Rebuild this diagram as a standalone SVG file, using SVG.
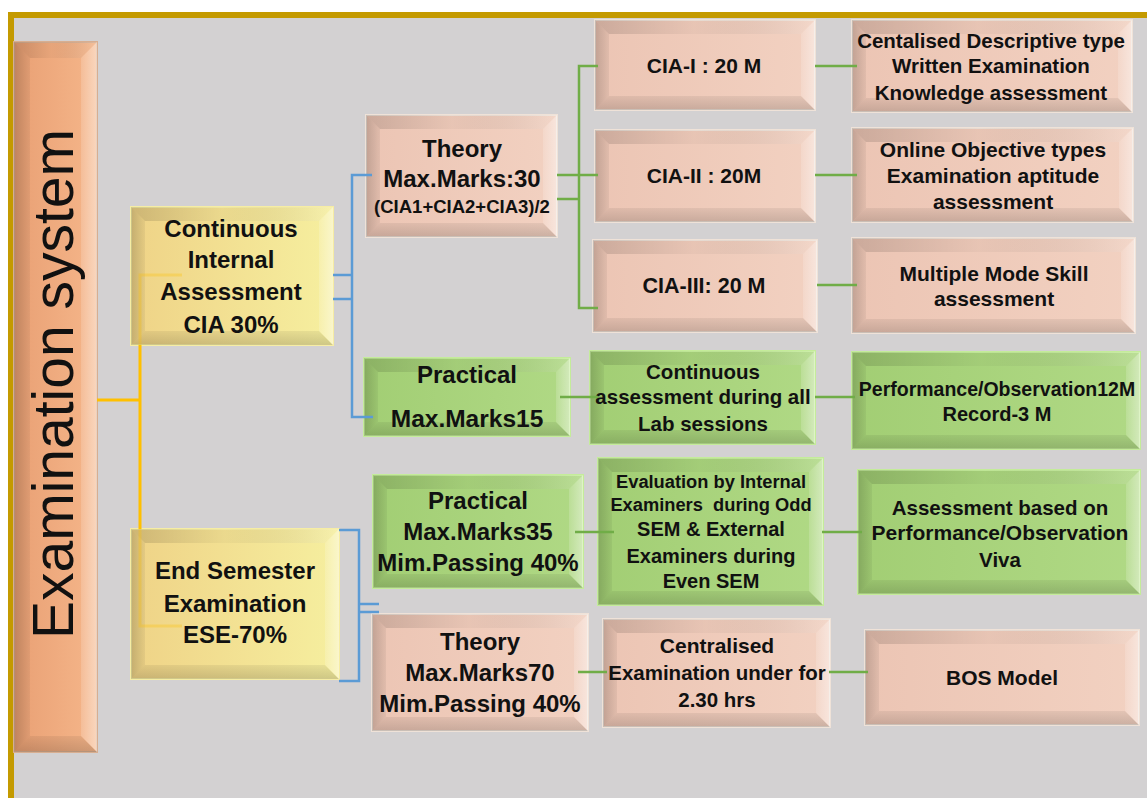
<svg xmlns="http://www.w3.org/2000/svg" width="1147" height="798" viewBox="0 0 1147 798">
<defs>
<linearGradient id="gPink" x1="0" y1="0" x2="1" y2="0"><stop offset="0" stop-color="#ecc5b4"/><stop offset="1" stop-color="#f2d1c1"/></linearGradient>
<linearGradient id="gGreen" x1="0" y1="0" x2="1" y2="0"><stop offset="0" stop-color="#a2ce74"/><stop offset="1" stop-color="#b0d985"/></linearGradient>
<linearGradient id="gYellow" x1="0" y1="0" x2="1" y2="0"><stop offset="0" stop-color="#efd387"/><stop offset="1" stop-color="#f6ef9f"/></linearGradient>
<linearGradient id="gOrange" x1="0" y1="0" x2="1" y2="0"><stop offset="0" stop-color="#e9a074"/><stop offset="1" stop-color="#f5b68a"/></linearGradient>
<linearGradient id="gTop" x1="0" y1="0" x2="1" y2="0"><stop offset="0" stop-color="#000" stop-opacity="0.14"/><stop offset="0.45" stop-color="#000" stop-opacity="0.03"/><stop offset="1" stop-color="#fff" stop-opacity="0.15"/></linearGradient>
<linearGradient id="gLeft" x1="0" y1="0" x2="1" y2="0"><stop offset="0" stop-color="#000" stop-opacity="0.18"/><stop offset="1" stop-color="#000" stop-opacity="0.05"/></linearGradient>
<linearGradient id="gBot" x1="0" y1="0" x2="0" y2="1"><stop offset="0" stop-color="#000" stop-opacity="0.06"/><stop offset="1" stop-color="#000" stop-opacity="0.16"/></linearGradient>
<linearGradient id="gRight" x1="0" y1="0" x2="1" y2="0"><stop offset="0" stop-color="#fff" stop-opacity="0.15"/><stop offset="1" stop-color="#fff" stop-opacity="0.45"/></linearGradient>
</defs>
<style>
.bt{fill:url(#gTop)}
.bl{fill:url(#gLeft)}
.bb{fill:url(#gBot)}
.br{fill:url(#gRight)}
.pink .base{fill:url(#gPink);stroke:#efe2d8;stroke-width:2}
.green .base{fill:url(#gGreen);stroke:#c4ec9a;stroke-width:2}
.yellow .base{fill:url(#gYellow);stroke:#f6eda4;stroke-width:2}
.orange .base{fill:url(#gOrange);stroke:#d8ae90;stroke-width:2}
.t{font-family:"Liberation Sans",Arial,sans-serif;font-weight:bold;text-anchor:middle;fill:#111}
.big{font-size:24px}
.mid{font-size:21px}
.sm{font-size:20.5px}
.title{font-family:"Liberation Sans",Arial,sans-serif;font-size:57px;text-anchor:middle;fill:#111}
.cy{fill:none;stroke:#ffc000;stroke-width:3}
.cyf{fill:none;stroke:#ffc000;stroke-width:3;stroke-opacity:0.3}
.cb{fill:none;stroke:#5b9bd5;stroke-width:2.5}
.cg{fill:none;stroke:#70ad47;stroke-width:2.5}
</style>
<rect x="0" y="0" width="1147" height="798" fill="#ffffff"/>
<rect x="11" y="15" width="1200" height="900" fill="#d3d1d2" stroke="#c49a00" stroke-width="6"/>

<g id="n-exam" class="node orange">
<rect class="base" x="14" y="42" width="83" height="710"/>
<polygon class="bt" points="14,42 97,42 81,58 30,58"/>
<polygon class="bl" points="14,42 30,58 30,736 14,752"/>
<polygon class="bb" points="14,752 30,736 81,736 97,752"/>
<polygon class="br" points="97,42 97,752 81,736 81,58"/>
<text class="title" transform="translate(73,384) rotate(-90)">Examination system</text>
</g>

<g id="n-cia" class="node yellow">
<rect class="base" x="131" y="207" width="202" height="138"/>
<polygon class="bt" points="131,207 333,207 319,221 145,221"/>
<polygon class="bl" points="131,207 145,221 145,331 131,345"/>
<polygon class="bb" points="131,345 145,331 319,331 333,345"/>
<polygon class="br" points="333,207 333,345 319,331 319,221"/>
<text class="t big" x="231" y="237">Continuous</text>
<text class="t big" x="231" y="268">Internal</text>
<text class="t big" x="231" y="300">Assessment</text>
<text class="t big" x="231" y="333">CIA 30%</text>
</g>

<g id="n-ese" class="node yellow">
<rect class="base" x="131" y="529" width="208" height="150"/>
<polygon class="bt" points="131,529 339,529 325,543 145,543"/>
<polygon class="bl" points="131,529 145,543 145,665 131,679"/>
<polygon class="bb" points="131,679 145,665 325,665 339,679"/>
<polygon class="br" points="339,529 339,679 325,665 325,543"/>
<text class="t big" x="235" y="579">End Semester</text>
<text class="t big" x="235" y="612">Examination</text>
<text class="t big" x="235" y="643">ESE-70%</text>
</g>

<g id="n-theory1" class="node pink">
<rect class="base" x="366" y="115" width="191" height="122"/>
<polygon class="bt" points="366,115 557,115 543,129 380,129"/>
<polygon class="bl" points="366,115 380,129 380,223 366,237"/>
<polygon class="bb" points="366,237 380,223 543,223 557,237"/>
<polygon class="br" points="557,115 557,237 543,223 543,129"/>
<text class="t big" x="462" y="157">Theory</text>
<text class="t big" x="462" y="187">Max.Marks:30</text>
<text class="t" style="font-size:18.5px" x="462" y="213">(CIA1+CIA2+CIA3)/2</text>
</g>

<g id="n-cia1" class="node pink">
<rect class="base" x="595" y="20" width="220" height="90"/>
<polygon class="bt" points="595,20 815,20 801,34 609,34"/>
<polygon class="bl" points="595,20 609,34 609,96 595,110"/>
<polygon class="bb" points="595,110 609,96 801,96 815,110"/>
<polygon class="br" points="815,20 815,110 801,96 801,34"/>
<text class="t mid" x="704" y="73">CIA-I : 20 M</text>
</g>

<g id="n-cia2" class="node pink">
<rect class="base" x="595" y="130" width="220" height="92"/>
<polygon class="bt" points="595,130 815,130 801,144 609,144"/>
<polygon class="bl" points="595,130 609,144 609,208 595,222"/>
<polygon class="bb" points="595,222 609,208 801,208 815,222"/>
<polygon class="br" points="815,130 815,222 801,208 801,144"/>
<text class="t mid" x="704" y="183">CIA-II : 20M</text>
</g>

<g id="n-cia3" class="node pink">
<rect class="base" x="593" y="240" width="224" height="92"/>
<polygon class="bt" points="593,240 817,240 803,254 607,254"/>
<polygon class="bl" points="593,240 607,254 607,318 593,332"/>
<polygon class="bb" points="593,332 607,318 803,318 817,332"/>
<polygon class="br" points="817,240 817,332 803,318 803,254"/>
<text class="t" style="font-size:21.5px" x="704" y="293">CIA-III: 20 M</text>
</g>

<g id="n-r1" class="node pink">
<rect class="base" x="852" y="20" width="280" height="92"/>
<polygon class="bt" points="852,20 1132,20 1118,34 866,34"/>
<polygon class="bl" points="852,20 866,34 866,98 852,112"/>
<polygon class="bb" points="852,112 866,98 1118,98 1132,112"/>
<polygon class="br" points="1132,20 1132,112 1118,98 1118,34"/>
<text class="t sm" x="991" y="48">Centalised Descriptive type</text>
<text class="t sm" x="991" y="73">Written Examination</text>
<text class="t sm" x="991" y="100">Knowledge assessment</text>
</g>

<g id="n-r2" class="node pink">
<rect class="base" x="852" y="128" width="281" height="94"/>
<polygon class="bt" points="852,128 1133,128 1119,142 866,142"/>
<polygon class="bl" points="852,128 866,142 866,208 852,222"/>
<polygon class="bb" points="852,222 866,208 1119,208 1133,222"/>
<polygon class="br" points="1133,128 1133,222 1119,208 1119,142"/>
<text class="t mid" x="993" y="157">Online Objective types</text>
<text class="t mid" x="993" y="183">Examination aptitude</text>
<text class="t mid" x="993" y="209">assessment</text>
</g>

<g id="n-r3" class="node pink">
<rect class="base" x="852" y="238" width="283" height="95"/>
<polygon class="bt" points="852,238 1135,238 1121,252 866,252"/>
<polygon class="bl" points="852,238 866,252 866,319 852,333"/>
<polygon class="bb" points="852,333 866,319 1121,319 1135,333"/>
<polygon class="br" points="1135,238 1135,333 1121,319 1121,252"/>
<text class="t mid" x="994" y="281">Multiple Mode Skill</text>
<text class="t mid" x="994" y="306">assessment</text>
</g>

<g id="n-prac1" class="node green">
<rect class="base" x="364" y="358" width="206" height="78"/>
<polygon class="bt" points="364,358 570,358 556,372 378,372"/>
<polygon class="bl" points="364,358 378,372 378,422 364,436"/>
<polygon class="bb" points="364,436 378,422 556,422 570,436"/>
<polygon class="br" points="570,358 570,436 556,422 556,372"/>
<text class="t big" x="467" y="383">Practical</text>
<text class="t" style="font-size:24.5px" x="467" y="427">Max.Marks15</text>
</g>

<g id="n-cont" class="node green">
<rect class="base" x="590" y="351" width="225" height="93"/>
<polygon class="bt" points="590,351 815,351 801,365 604,365"/>
<polygon class="bl" points="590,351 604,365 604,430 590,444"/>
<polygon class="bb" points="590,444 604,430 801,430 815,444"/>
<polygon class="br" points="815,351 815,444 801,430 801,365"/>
<text class="t sm" x="703" y="379">Continuous</text>
<text class="t sm" x="703" y="404">assessment during all</text>
<text class="t sm" x="703" y="431">Lab sessions</text>
</g>

<g id="n-perf" class="node green">
<rect class="base" x="852" y="352" width="288" height="97"/>
<polygon class="bt" points="852,352 1140,352 1126,366 866,366"/>
<polygon class="bl" points="852,352 866,366 866,435 852,449"/>
<polygon class="bb" points="852,449 866,435 1126,435 1140,449"/>
<polygon class="br" points="1140,352 1140,449 1126,435 1126,366"/>
<text class="t" style="font-size:19.5px" x="997" y="396">Performance/Observation12M</text>
<text class="t" style="font-size:20px" x="997" y="421">Record-3 M</text>
</g>

<g id="n-prac2" class="node green">
<rect class="base" x="373" y="475" width="210" height="113"/>
<polygon class="bt" points="373,475 583,475 569,489 387,489"/>
<polygon class="bl" points="373,475 387,489 387,574 373,588"/>
<polygon class="bb" points="373,588 387,574 569,574 583,588"/>
<polygon class="br" points="583,475 583,588 569,574 569,489"/>
<text class="t big" x="478" y="509">Practical</text>
<text class="t big" x="478" y="540">Max.Marks35</text>
<text class="t big" x="478" y="571">Mim.Passing 40%</text>
</g>

<g id="n-eval" class="node green">
<rect class="base" x="598" y="458" width="225" height="147"/>
<polygon class="bt" points="598,458 823,458 809,472 612,472"/>
<polygon class="bl" points="598,458 612,472 612,591 598,605"/>
<polygon class="bb" points="598,605 612,591 809,591 823,605"/>
<polygon class="br" points="823,458 823,605 809,591 809,472"/>
<text class="t" style="font-size:18.3px" x="711" y="488">Evaluation by Internal</text>
<text class="t" style="font-size:18.3px" x="711" y="511" xml:space="preserve">Examiners  during Odd</text>
<text class="t" style="font-size:20px" x="711" y="536">SEM &amp; External</text>
<text class="t" style="font-size:20px" x="711" y="563">Examiners during</text>
<text class="t" style="font-size:20px" x="711" y="588">Even SEM</text>
</g>

<g id="n-assess" class="node green">
<rect class="base" x="858" y="470" width="282" height="124"/>
<polygon class="bt" points="858,470 1140,470 1126,484 872,484"/>
<polygon class="bl" points="858,470 872,484 872,580 858,594"/>
<polygon class="bb" points="858,594 872,580 1126,580 1140,594"/>
<polygon class="br" points="1140,470 1140,594 1126,580 1126,484"/>
<text class="t sm" x="1000" y="515">Assessment based on</text>
<text class="t" style="font-size:21px" x="1000" y="540">Performance/Observation</text>
<text class="t sm" x="1000" y="567">Viva</text>
</g>

<g id="n-theory2" class="node pink">
<rect class="base" x="372" y="614" width="216" height="117"/>
<polygon class="bt" points="372,614 588,614 574,628 386,628"/>
<polygon class="bl" points="372,614 386,628 386,717 372,731"/>
<polygon class="bb" points="372,731 386,717 574,717 588,731"/>
<polygon class="br" points="588,614 588,731 574,717 574,628"/>
<text class="t big" x="480" y="650">Theory</text>
<text class="t big" x="480" y="681">Max.Marks70</text>
<text class="t big" x="480" y="712">Mim.Passing 40%</text>
</g>

<g id="n-centr" class="node pink">
<rect class="base" x="603" y="619" width="227" height="108"/>
<polygon class="bt" points="603,619 830,619 816,633 617,633"/>
<polygon class="bl" points="603,619 617,633 617,713 603,727"/>
<polygon class="bb" points="603,727 617,713 816,713 830,727"/>
<polygon class="br" points="830,619 830,727 816,713 816,633"/>
<text class="t" style="font-size:21px" x="717" y="653">Centralised</text>
<text class="t sm" x="717" y="680">Examination under for</text>
<text class="t sm" x="717" y="707">2.30 hrs</text>
</g>

<g id="n-bos" class="node pink">
<rect class="base" x="865" y="630" width="274" height="95"/>
<polygon class="bt" points="865,630 1139,630 1125,644 879,644"/>
<polygon class="bl" points="865,630 879,644 879,711 865,725"/>
<polygon class="bb" points="865,725 879,711 1125,711 1139,725"/>
<polygon class="br" points="1139,630 1139,725 1125,711 1125,644"/>
<text class="t mid" x="1002" y="685">BOS Model</text>
</g>

<g id="connectors">
<path class="cy" d="M97,400 H140 M140,345 V529"/>
<path class="cyf" d="M182,275 H140 V345 M140,529 V626 H182"/>
<path class="cb" d="M333,275 H352 M333,299 H352 M372,175 H352 V417 H373"/>
<path class="cb" d="M339,530 H359 V681 H339 M359,604 H379 M359,612 H379"/>
<path class="cg" d="M557,175 H579 M557,199 H579 M598,66 H579 V308 H598 M579,175 H598"/>
<path class="cg" d="M815,66 H857 M815,175 H857 M817,285 H857"/>
<path class="cg" d="M560,397 H598 M815,397 H855"/>
<path class="cg" d="M575,532 H614 M822,532 H862"/>
<path class="cg" d="M578,672 H607 M829,672 H868"/>
</g>
</svg>
